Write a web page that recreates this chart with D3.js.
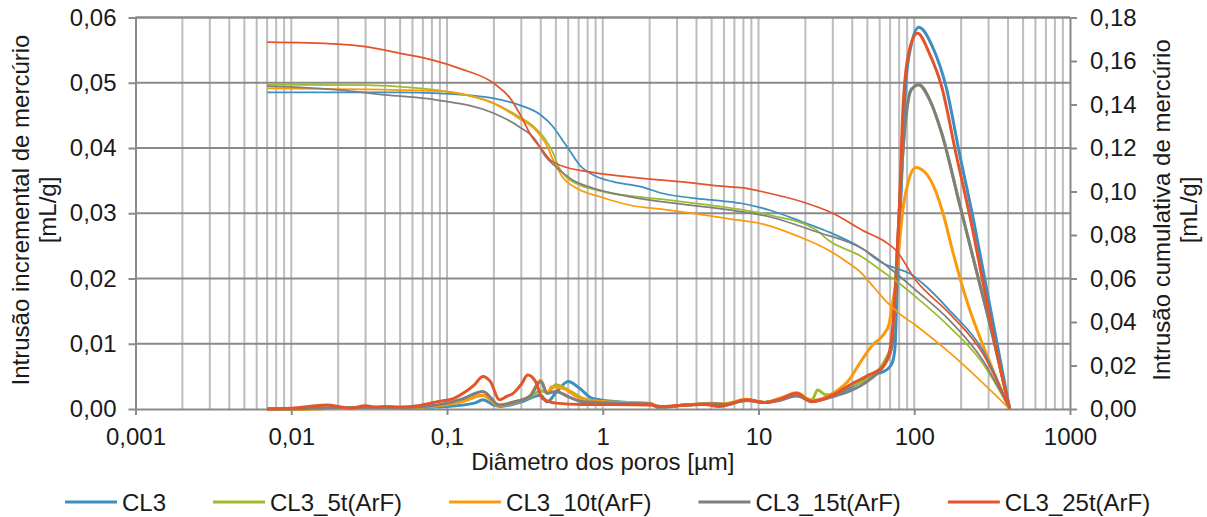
<!DOCTYPE html>
<html>
<head>
<meta charset="utf-8">
<script src="https://cdn.jsdelivr.net/npm/d3@7/dist/d3.min.js"></script>
<style>
  html, body { margin: 0; padding: 0; background: #fff; }
  svg text { font-family: "Liberation Sans", Arial, sans-serif; fill: #1a1a1a; }
</style>
</head>
<body>
<svg id="chart" width="1207" height="517"></svg>
<script>
// Pore diameter [µm] vs incremental intrusion [mL/g] (left axis, thick lines)
// and cumulative intrusion [mL/g] (right axis, thin lines).
const seriesNames = ["CL3", "CL3_5t(ArF)", "CL3_10t(ArF)", "CL3_15t(ArF)", "CL3_25t(ArF)"];
const seriesColors = ["#3d8fc2", "#9dbb2f", "#fb9a0c", "#7f7f7f", "#e4532a"];

const xTickLabels = ["0,001", "0,01", "0,1", "1", "10", "100", "1000"];
const leftTickLabels = ["0,00", "0,01", "0,02", "0,03", "0,04", "0,05", "0,06"];
const rightTickLabels = ["0,00", "0,02", "0,04", "0,06", "0,08", "0,10", "0,12", "0,14", "0,16", "0,18"];

// Incremental intrusion [diameter µm, mL/g]
const incCL3 = [[0.007,0],[0.01,0],[0.02,0.0002],[0.05,0.0002],[0.1,0.0004],[0.15,0.0009],[0.17,0.0014],[0.2,0.0006],[0.22,0.0004],[0.3,0.0011],[0.4,0.0021],[0.44,0.0011],[0.5,0.0025],[0.6,0.0042],[0.7,0.0033],[0.86,0.0016],[1.25,0.0011],[2,0.0008],[2.3,0.0002],[3.4,0.0006],[5,0.0008],[6,0.0006],[8.4,0.0014],[11,0.001],[13.6,0.0015],[17.6,0.0022],[22,0.0012],[31,0.0022],[38,0.0032],[44,0.004],[51,0.0052],[63,0.0057],[71,0.0067],[75,0.009],[78,0.02],[82,0.032],[88,0.0494],[95,0.0555],[107,0.0585],[131,0.0555],[160,0.0494],[195,0.0392],[240,0.029],[290,0.0187],[350,0.0085],[410,0]];
const inc5t = [[0.007,0],[0.01,0],[0.02,0.0001],[0.05,0.0002],[0.1,0.0007],[0.127,0.0012],[0.17,0.0021],[0.217,0.0006],[0.27,0.0011],[0.34,0.0018],[0.4,0.0028],[0.44,0.0025],[0.5,0.0037],[0.6,0.0029],[0.75,0.0016],[1,0.0011],[2,0.0008],[2.3,0.0003],[3.4,0.0006],[5,0.0008],[6,0.0007],[8.4,0.0013],[11,0.001],[13.6,0.0014],[17.6,0.0022],[22,0.0014],[24,0.0029],[27,0.0022],[31,0.0024],[38,0.0035],[51,0.0047],[65,0.0075],[72,0.0101],[76,0.0193],[80,0.03],[88,0.0443],[96,0.049],[107,0.0497],[125,0.0475],[150,0.0423],[195,0.0315],[250,0.0213],[320,0.0111],[410,0]];
const inc10t = [[0.007,0],[0.01,0],[0.02,0.0001],[0.05,0.0002],[0.078,0.0004],[0.1,0.0007],[0.127,0.0012],[0.17,0.0021],[0.217,0.0005],[0.27,0.001],[0.34,0.002],[0.4,0.0044],[0.44,0.0024],[0.47,0.0034],[0.55,0.0032],[0.72,0.0016],[1,0.0011],[2,0.0009],[2.3,0.0003],[3.4,0.0006],[5,0.0009],[6,0.0008],[8.4,0.0015],[11,0.001],[13.6,0.0016],[17.6,0.0025],[22,0.0013],[31,0.0026],[38,0.0044],[46,0.0075],[54,0.0098],[63,0.0113],[69,0.0131],[72,0.0157],[76,0.0193],[80,0.025],[85,0.031],[92,0.035],[102,0.037],[118,0.0362],[135,0.0338],[155,0.0295],[175,0.0245],[220,0.0162],[290,0.0085],[410,0]];
const inc15t = [[0.007,0],[0.01,0],[0.02,0.0002],[0.05,0.0002],[0.078,0.0005],[0.1,0.0009],[0.127,0.0016],[0.17,0.0027],[0.217,0.0006],[0.27,0.0011],[0.34,0.0019],[0.4,0.0042],[0.44,0.0024],[0.5,0.0027],[0.6,0.0019],[0.75,0.0011],[1.2,0.0009],[2,0.0008],[2.3,0.0003],[3.4,0.0006],[5,0.0008],[6,0.0007],[8.4,0.0013],[11,0.001],[13.6,0.0013],[17.6,0.002],[22,0.0012],[31,0.002],[38,0.0027],[51,0.0044],[65,0.007],[72,0.0095],[76,0.0193],[80,0.03],[88,0.0443],[96,0.049],[107,0.0497],[125,0.0475],[150,0.0423],[195,0.0315],[250,0.0213],[320,0.0111],[410,0]];
const inc25t = [[0.007,0],[0.01,0.0001],[0.017,0.0006],[0.021,0.0003],[0.024,0.0001],[0.03,0.0005],[0.035,0.0003],[0.04,0.0004],[0.05,0.0003],[0.065,0.0005],[0.078,0.0009],[0.09,0.0012],[0.11,0.0016],[0.127,0.0024],[0.15,0.0037],[0.17,0.005],[0.19,0.0042],[0.217,0.0014],[0.24,0.0019],[0.266,0.0024],[0.3,0.0038],[0.33,0.0052],[0.37,0.0042],[0.41,0.0016],[0.5,0.0009],[0.75,0.0007],[1.2,0.0007],[2,0.0006],[2.4,0.0004],[3.4,0.0006],[4.5,0.0007],[5.6,0.0004],[8.4,0.0014],[11,0.001],[13.6,0.0015],[17.6,0.0024],[22,0.0011],[31.5,0.0024],[40,0.0039],[51,0.0052],[63,0.0065],[69,0.0085],[72,0.0116],[76,0.0193],[80,0.03],[85,0.0469],[93,0.055],[105,0.0576],[125,0.0545],[150,0.0494],[185,0.0392],[230,0.029],[280,0.0187],[340,0.0085],[410,0]];

// Cumulative intrusion [diameter µm, mL/g]
const cumCL3 = [[0.007,0.1456],[0.05,0.1456],[0.09,0.1451],[0.2,0.1428],[0.29,0.1398],[0.4,0.1352],[0.48,0.1298],[0.55,0.1237],[0.61,0.1191],[0.71,0.1122],[0.87,0.1076],[1.16,0.1045],[1.75,0.1022],[2.4,0.0992],[5,0.0961],[7.7,0.0946],[11.7,0.0915],[19,0.0861],[28,0.0815],[46,0.0739],[63,0.067],[76,0.0647],[93,0.0624],[113,0.0578],[168,0.0455],[275,0.0271],[410,0]];
const cum5t = [[0.007,0.1491],[0.03,0.1489],[0.06,0.1478],[0.1,0.1459],[0.2,0.1405],[0.29,0.1344],[0.35,0.1306],[0.43,0.1237],[0.48,0.1177],[0.52,0.1114],[0.58,0.1068],[0.71,0.103],[0.96,0.1003],[2.6,0.0961],[6.8,0.0923],[11.7,0.0892],[23.5,0.0823],[28,0.0777],[46,0.07],[63,0.0631],[80,0.0578],[102,0.0516],[168,0.0378],[275,0.021],[410,0]];
const cum10t = [[0.007,0.1474],[0.045,0.1467],[0.1,0.1459],[0.12,0.1451],[0.2,0.1405],[0.29,0.1336],[0.37,0.1283],[0.43,0.1222],[0.48,0.1145],[0.55,0.1068],[0.68,0.1015],[0.96,0.0976],[1.48,0.0938],[2.6,0.0915],[6.8,0.0872],[11,0.0848],[17.7,0.0796],[28,0.0731],[38,0.067],[46,0.0624],[55,0.056],[66,0.0495],[80,0.044],[102,0.0385],[168,0.026],[410,0]];
const cum15t = [[0.007,0.1484],[0.02,0.1467],[0.04,0.1444],[0.085,0.1421],[0.2,0.136],[0.29,0.1298],[0.37,0.1237],[0.43,0.116],[0.5,0.1114],[0.64,0.1053],[0.87,0.1015],[1.48,0.0976],[6.5,0.0915],[11.7,0.0884],[23.5,0.0815],[46,0.0739],[72,0.0639],[102,0.0547],[168,0.0409],[275,0.0225],[410,0]];
const cum25t = [[0.007,0.1687],[0.02,0.1678],[0.03,0.1666],[0.05,0.1635],[0.08,0.1605],[0.12,0.1566],[0.2,0.1497],[0.26,0.142],[0.3,0.1344],[0.35,0.1252],[0.4,0.12],[0.46,0.1145],[0.55,0.1117],[0.8,0.1091],[1.5,0.1066],[3.1,0.1045],[6.3,0.1022],[7.7,0.1018],[11.7,0.0992],[19,0.0953],[30,0.09],[46,0.0823],[65,0.0769],[76,0.0731],[102,0.0593],[168,0.044],[275,0.0256],[410,0]];

const incremental = [incCL3, inc5t, inc10t, inc15t, inc25t];
const cumulative = [cumCL3, cum5t, cum10t, cum15t, cum25t];

const svg = d3.select("#chart");
const plot = { left: 135.5, right: 1070, top: 17.5, bottom: 409 };

const x = d3.scaleLog().domain([0.001, 1000]).range([plot.left, plot.right]);
const yL = d3.scaleLinear().domain([0, 0.06]).range([plot.bottom, plot.top]);
const yR = d3.scaleLinear().domain([0, 0.18]).range([plot.bottom, plot.top]);

const fontSize = 24;
const axisGrey = "#8a8a8a";

// vertical grid: every 1..9 × decade
const minorTicks = [];
for (let e = -3; e < 3; e++) {
  for (let m = 1; m <= 9; m++) minorTicks.push(m * Math.pow(10, e));
}
svg.append("g").selectAll("line").data(minorTicks.slice(1)).join("line")
  .attr("x1", d => x(d)).attr("x2", d => x(d))
  .attr("y1", plot.top).attr("y2", plot.bottom)
  .attr("stroke", "#bdbdbd").attr("stroke-width", 2);

// horizontal grid at left-axis ticks
const leftTicks = d3.range(0, 7).map(i => i * 0.01);
svg.append("g").selectAll("line").data(leftTicks.slice(1)).join("line")
  .attr("x1", plot.left).attr("x2", plot.right)
  .attr("y1", d => yL(d)).attr("y2", d => yL(d))
  .attr("stroke", axisGrey).attr("stroke-width", 2);

// axes
const xAxis = d3.axisBottom(x)
  .tickValues([0.001, 0.01, 0.1, 1, 10, 100, 1000])
  .tickFormat((d, i) => xTickLabels[i])
  .tickSizeInner(6).tickSizeOuter(0).tickPadding(13);
const gx = svg.append("g").attr("transform", `translate(0,${plot.bottom})`).call(xAxis);

const yAxisL = d3.axisLeft(yL).tickValues(leftTicks)
  .tickFormat((d, i) => leftTickLabels[i]).tickSizeInner(7).tickSizeOuter(0).tickPadding(12);
const gyl = svg.append("g").attr("transform", `translate(${plot.left},0)`).call(yAxisL);

const rightTicks = d3.range(0, 10).map(i => i * 0.02);
const yAxisR = d3.axisRight(yR).tickValues(rightTicks)
  .tickFormat((d, i) => rightTickLabels[i]).tickSizeInner(7).tickSizeOuter(0).tickPadding(13);
const gyr = svg.append("g").attr("transform", `translate(${plot.right},0)`).call(yAxisR);

[gx, gyl, gyr].forEach(g => {
  g.select(".domain").attr("stroke", axisGrey).attr("stroke-width", 2);
  g.selectAll(".tick line").attr("stroke", axisGrey).attr("stroke-width", 2);
  g.selectAll(".tick text").attr("font-size", fontSize).attr("font-family", "Liberation Sans, Arial, sans-serif").attr("fill", "#1a1a1a");
});

// top border
svg.append("line").attr("x1", plot.left).attr("x2", plot.right)
  .attr("y1", plot.top).attr("y2", plot.top).attr("stroke", axisGrey).attr("stroke-width", 2);

// series
const lineL = d3.line().x(d => x(d[0])).y(d => yL(d[1])).curve(d3.curveMonotoneX);
const lineR = d3.line().x(d => x(d[0])).y(d => yR(d[1])).curve(d3.curveMonotoneX);

const series = svg.append("g");
incremental.forEach((data, i) => {
  series.append("path").attr("d", lineL(data)).attr("fill", "none")
    .attr("stroke", seriesColors[i]).attr("stroke-width", 3).attr("stroke-linejoin", "round");
});
cumulative.forEach((data, i) => {
  series.append("path").attr("d", lineR(data)).attr("fill", "none")
    .attr("stroke", seriesColors[i]).attr("stroke-width", 1.75).attr("stroke-linejoin", "round");
});

// axis titles
svg.append("text").attr("x", (plot.left + plot.right) / 2).attr("y", 470)
  .attr("text-anchor", "middle").attr("font-size", fontSize).text("Diâmetro dos poros [µm]");

const leftTitle = svg.append("text").attr("transform", `translate(29,210) rotate(-90)`)
  .attr("text-anchor", "middle").attr("font-size", fontSize);
leftTitle.append("tspan").attr("x", 0).attr("dy", 0).text("Intrusão incremental de mercúrio");
leftTitle.append("tspan").attr("x", 0).attr("dy", 27).text("[mL/g]");

const rightTitle = svg.append("text").attr("transform", `translate(1170,210) rotate(-90)`)
  .attr("text-anchor", "middle").attr("font-size", fontSize);
rightTitle.append("tspan").attr("x", 0).attr("dy", 0).text("Intrusão cumulativa de mercúrio");
rightTitle.append("tspan").attr("x", 0).attr("dy", 27).text("[mL/g]");

// legend
const legend = svg.append("g");
let lx = 65;
seriesNames.forEach((name, i) => {
  const g = legend.append("g").attr("transform", `translate(${lx},502)`);
  g.append("line").attr("x1", 0).attr("x2", 52).attr("y1", 0).attr("y2", 0)
    .attr("stroke", seriesColors[i]).attr("stroke-width", 3);
  const t = g.append("text").attr("x", 57).attr("y", 8.5).attr("font-size", fontSize).text(name);
  lx += 57 + t.node().getComputedTextLength() + 47;
});
</script>
</body>
</html>
